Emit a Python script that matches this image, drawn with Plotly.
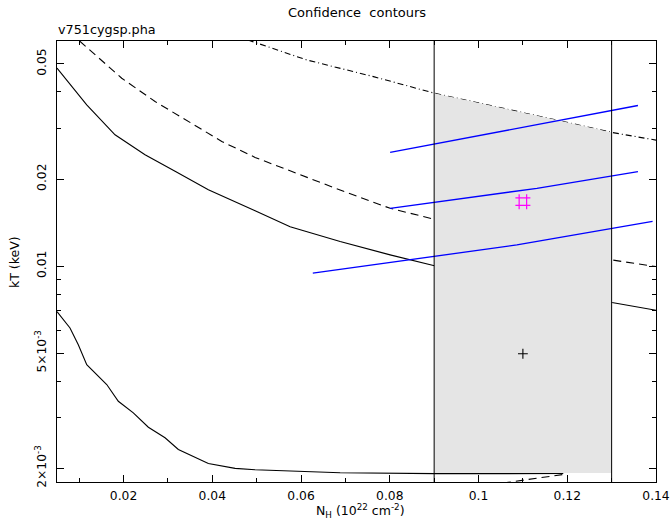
import math
import plotly.graph_objects as go

# ---- data (N_H in 1e22 cm^-2, kT in keV) ----
solid_nh = [0.005, 0.0117, 0.01808, 0.02484, 0.03161, 0.03911, 0.04965, 0.05754,
            0.06881, 0.08008, 0.09007, 0.13007, 0.14]
solid_kt = [0.04837, 0.03608, 0.02844, 0.02426, 0.02127, 0.01837, 0.01555, 0.01369,
            0.01216, 0.01094, 0.01003, 0.00749, 0.00704]

low_nh = [0.005, 0.00793, 0.0098, 0.0117, 0.01621, 0.01882, 0.0222, 0.02559, 0.02935,
          0.03235, 0.03911, 0.04514, 0.04965, 0.06881, 0.09024, 0.1191]
low_kt = [0.00696, 0.006113, 0.005354, 0.004567, 0.003898, 0.003413, 0.003113, 0.002776,
          0.002553, 0.002325, 0.00208, 0.002, 0.001979, 0.001933, 0.001918, 0.00192]

dash_nh = [0.0101, 0.01959, 0.0271, 0.03461, 0.04214, 0.04965, 0.05754, 0.06881,
           0.08008, 0.09007, 0.13, 0.14]
dash_kt = [0.0600, 0.04461, 0.03707, 0.03163, 0.02698, 0.02376, 0.02132, 0.01833,
           0.01585, 0.01452, 0.01051, 0.00997]

dash_low_nh = [0.1055, 0.1195]
dash_low_kt = [0.00178, 0.00191]

dashdot_nh = [0.0480, 0.0613, 0.07632, 0.09007, 0.11842, 0.13007, 0.14]
dashdot_kt = [0.0605, 0.05159, 0.04519, 0.0396, 0.03178, 0.02898, 0.02726]

shade_nh = [0.09, 0.09, 0.11842, 0.13, 0.13]
shade_kt = [0.00193, 0.0396, 0.03178, 0.02898, 0.00193]

vlines_nh = [0.09, 0.13]

blue1_nh = [0.08008, 0.13593]
blue1_kt = [0.02472, 0.03591]
blue2_nh = [0.08008, 0.11316, 0.13593]
blue2_kt = [0.01585, 0.01858, 0.0212]
blue3_nh = [0.06265, 0.10865, 0.13923]
blue3_kt = [0.009461, 0.01184, 0.01428]

best_nh = [0.11]
best_kt = [0.0167]
ref_nh = [0.11]
ref_kt = [0.00498]

x_range = [0.005, 0.14]
y_range = [0.001795, 0.0600]
x_major = [0.02, 0.04, 0.06, 0.08, 0.1, 0.12, 0.14]
x_major_text = ["0.02", "0.04", "0.06", "0.08", "0.1", "0.12", "0.14"]
x_minor = [0.01, 0.03, 0.05, 0.07, 0.09, 0.11, 0.13]
y_major = [0.002, 0.005, 0.01, 0.02, 0.05]
y_major_text = ["2×10<sup>-3</sup>", "5×10<sup>-3</sup>", "0.01", "0.02", "0.05"]
y_minor = [0.003, 0.004, 0.006, 0.007, 0.008, 0.009, 0.03, 0.04]

FONT = "DejaVu Sans"
fig = go.Figure()

def line(x, y, color="black", dash="solid", width=1.1):
    fig.add_trace(go.Scatter(x=x, y=y, mode="lines", hoverinfo="skip",
                             line=dict(color=color, width=width, dash=dash)))

line(solid_nh, solid_kt)
line(low_nh, low_kt)
line(dash_nh, dash_kt, dash="8px,5px")
line(dash_low_nh, dash_low_kt, dash="8px,5px")
line(dashdot_nh, dashdot_kt, dash="6px,3px,1px,3px")

fig.add_trace(go.Scatter(x=shade_nh, y=shade_kt, mode="lines", fill="toself",
                         fillcolor="#e5e5e5", line=dict(width=0), hoverinfo="skip"))

line(blue1_nh, blue1_kt, color="#0000ff", width=1.3)
line(blue2_nh, blue2_kt, color="#0000ff", width=1.3)
line(blue3_nh, blue3_kt, color="#0000ff", width=1.3)

fig.add_trace(go.Scatter(x=best_nh, y=best_kt, mode="markers", hoverinfo="skip",
                         marker=dict(symbol="hash-open", size=15, color="#ff00ff",
                                     line=dict(color="#ff00ff", width=1.2))))
fig.add_trace(go.Scatter(x=ref_nh, y=ref_kt, mode="markers", hoverinfo="skip",
                         marker=dict(symbol="cross-thin", size=7, color="black",
                                     line=dict(color="black", width=1.1))))

for xv in vlines_nh:
    fig.add_shape(type="line", xref="x", yref="paper", x0=xv, x1=xv, y0=0, y1=1,
                  line=dict(color="black", width=1), layer="above")

W, H = 672, 525
ml, mr, mt, mb = 57, 16, 41, 43
ph = H - mt - mb
pw = W - ml - mr

fig.update_layout(
    width=W, height=H, showlegend=False,
    margin=dict(l=ml, r=mr, t=mt, b=mb, pad=0, autoexpand=False),
    paper_bgcolor="white", plot_bgcolor="white",
    font=dict(family=FONT, size=12, color="black"),
    xaxis=dict(range=x_range, showgrid=False, zeroline=False, automargin=False,
               showline=True, linecolor="black", linewidth=1, mirror="allticks",
               ticks="inside", ticklen=7, tickwidth=1, tickcolor="black",
               tickmode="array", tickvals=x_major, ticktext=x_major_text,
               tickfont=dict(size=12.3), ticklabelstandoff=2,
               minor=dict(tickmode="array", tickvals=x_minor, ticks="inside",
                          ticklen=4, tickcolor="black", tickwidth=1, showgrid=False)),
    yaxis=dict(type="log", range=[math.log10(v) for v in y_range], showgrid=False,
               zeroline=False, showline=True, linecolor="black", linewidth=1,
               automargin=False, ticklabelstandoff=5,
               mirror="allticks", ticks="inside", ticklen=7, tickwidth=1,
               tickcolor="black", tickmode="array", tickvals=y_major,
               ticktext=y_major_text, tickangle=-90, tickfont=dict(size=12.3),
               minor=dict(tickmode="array", tickvals=y_minor, ticks="inside",
                          ticklen=4, tickcolor="black", tickwidth=1, showgrid=False)),
)

def ann(text, xpx, ypx, xanchor="center", size=12.5, angle=0):
    fig.add_annotation(text=text, xref="paper", yref="paper",
                       x=(xpx - ml) / pw, y=(H - mb - ypx) / ph,
                       xanchor=xanchor, yanchor="middle", showarrow=False,
                       textangle=angle, font=dict(family=FONT, size=size, color="black"))

ann("Confidence  contours", ml + pw / 2, 12, size=13)
ann("v751cygsp.pha", ml - 1, 30, xanchor="left", size=12.8)
ann("N<sub>H</sub> (10<sup>22</sup> cm<sup>-2</sup>)", ml + pw / 2 + 4, 511, size=12.5)
ann("kT (keV)", 14, 262, size=12.5, angle=-90)

fig.write_html("out.html")
